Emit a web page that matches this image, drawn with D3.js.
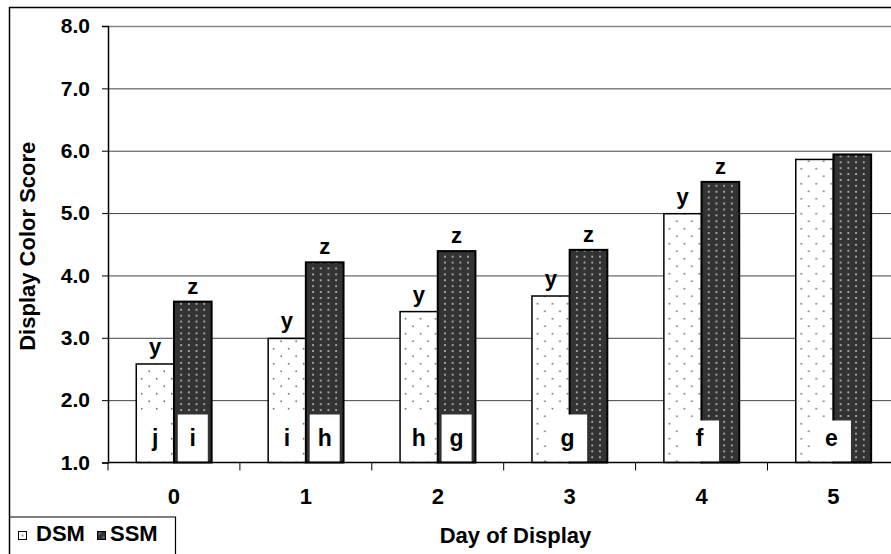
<!DOCTYPE html>
<html>
<head>
<meta charset="utf-8">
<script src="https://cdn.jsdelivr.net/npm/d3@7"></script>
<style>
  html, body { margin: 0; padding: 0; background: #fff; }
  svg { display: block; }
  text { font-family: "Liberation Sans", Arial, sans-serif; font-weight: bold; fill: #000; }
</style>
</head>
<body>
<svg id="chart" width="891" height="554"></svg>
<script>
// Display colour score by day of display for the two muscle groups
const days = ["0", "1", "2", "3", "4", "5"];
const seriesNames = ["DSM", "SSM"];
const dsmScores = [2.58, 2.99, 3.42, 3.67, 4.99, 5.86];
const ssmScores = [3.58, 4.21, 4.39, 4.41, 5.50, 5.94];

// Significance letters above the bars (muscle comparison within a day)
const dsmTopLetters = ["y", "y", "y", "y", "y", ""];
const ssmTopLetters = ["z", "z", "z", "z", "z", ""];

// Significance letters at the bar bases (day comparison within a muscle)
const dsmDayLetters = ["j", "i", "h", "", "", ""];
const ssmDayLetters = ["i", "h", "g", "", "", ""];
const pooledDayLetters = ["", "", "", "g", "f", "e"];

const yTicks = [1, 2, 3, 4, 5, 6, 7, 8];

const svg = d3.select("#chart");

// plot frame
const plot = { left: 108, top: 26, right: 899.4, bottom: 462.5 };

const x = d3.scaleBand().domain(days).range([plot.left, plot.right]).padding(0);
const xs = d3.scaleBand().domain(seriesNames).range([0, x.bandwidth()])
  .paddingInner(0).paddingOuter(0.75);
const y = d3.scaleLinear().domain([1, 8]).range([plot.bottom, plot.top]);

// fill patterns
const defs = svg.append("defs");
const pDsm = defs.append("pattern").attr("id", "pat-dsm")
  .attr("patternUnits", "userSpaceOnUse").attr("width", 15).attr("height", 15);
pDsm.append("rect").attr("width", 15).attr("height", 15).attr("fill", "#fff");
pDsm.append("circle").attr("cx", 3.75).attr("cy", 3.75).attr("r", 0.9).attr("fill", "#777");
pDsm.append("circle").attr("cx", 11.25).attr("cy", 11.25).attr("r", 0.9).attr("fill", "#777");

const pSsm = defs.append("pattern").attr("id", "pat-ssm")
  .attr("patternUnits", "userSpaceOnUse").attr("width", 7.7).attr("height", 5.9);
pSsm.append("rect").attr("width", 7.7).attr("height", 5.9).attr("fill", "#333");
pSsm.append("circle").attr("cx", 3.85).attr("cy", 2.95).attr("r", 0.95).attr("fill", "#c8c8c8");

const fills = { DSM: "url(#pat-dsm)", SSM: "url(#pat-ssm)" };

// outer chart border
svg.append("path")
  .attr("d", "M9.5,560 L9.5,7.5 L900,7.5")
  .attr("fill", "none").attr("stroke", "#000").attr("stroke-width", 1.5);

// horizontal gridlines
svg.append("g").selectAll("line")
  .data(yTicks.slice(1))
  .join("line")
  .attr("x1", plot.left).attr("x2", plot.right)
  .attr("y1", d => y(d) + 0.5).attr("y2", d => y(d) + 0.5)
  .attr("stroke", d => d === 8 ? "#888" : "#444").attr("stroke-width", d => d === 8 ? 1.5 : 1);

// bars
const rows = days.map((d, i) => ({
  day: d,
  values: [
    { key: "DSM", v: dsmScores[i], top: dsmTopLetters[i], base: dsmDayLetters[i] },
    { key: "SSM", v: ssmScores[i], top: ssmTopLetters[i], base: ssmDayLetters[i] }
  ],
  pooled: pooledDayLetters[i]
}));

const groups = svg.append("g").selectAll("g")
  .data(rows)
  .join("g")
  .attr("transform", r => `translate(${x(r.day)},0)`);

groups.selectAll("rect.bar")
  .data(r => r.values)
  .join("rect")
  .attr("class", "bar")
  .attr("x", d => xs(d.key))
  .attr("width", xs.bandwidth())
  .attr("y", d => y(d.v))
  .attr("height", d => y(1) - y(d.v))
  .attr("fill", d => fills[d.key])
  .attr("stroke", "#000")
  .attr("stroke-width", d => d.key === "SSM" ? 2 : 1.5);

// letters above bars
groups.selectAll("text.top")
  .data(r => r.values.filter(d => d.top))
  .join("text")
  .attr("class", "top")
  .attr("x", d => xs(d.key) + xs.bandwidth() / 2)
  .attr("y", d => y(d.v) - (d.key === "DSM" ? 10 : 8))
  .attr("text-anchor", "middle")
  .attr("font-size", 22)
  .text(d => d.top);

// white label boxes at the bar bases
const boxH = 48, boxHLate = 42;
groups.each(function (r, i) {
  const g = d3.select(this);
  const items = [];
  r.values.forEach(d => {
    if (d.base) items.push({ cx: xs(d.key) + xs.bandwidth() / 2, w: 30, h: boxH, t: d.base });
  });
  if (r.pooled) items.push({ cx: x.bandwidth() / 2 - 2, w: 39, h: i >= 4 ? boxHLate : boxH, t: r.pooled });
  g.selectAll("rect.lbl").data(items).join("rect")
    .attr("class", "lbl")
    .attr("x", d => d.cx - d.w / 2).attr("width", d => d.w)
    .attr("y", d => y(1) - d.h).attr("height", d => d.h - 1)
    .attr("fill", "#fff");
  g.selectAll("text.lbl").data(items).join("text")
    .attr("class", "lbl")
    .attr("x", d => d.cx).attr("y", y(1) - 17)
    .attr("text-anchor", "middle")
    .attr("font-size", 23)
    .text(d => d.t);
});

// y axis
const yAxis = svg.append("g").attr("transform", `translate(${plot.left},0)`)
  .call(d3.axisLeft(y).tickValues(yTicks).tickFormat(d3.format(".1f")).tickSize(6).tickPadding(12));
yAxis.select(".domain").attr("stroke", "#000").attr("stroke-width", 1.5);
yAxis.selectAll(".tick line").attr("stroke", "#000");
yAxis.selectAll(".tick text")
  .attr("font-size", 21).attr("font-family", "'Liberation Sans', Arial, sans-serif")
  .attr("font-weight", "bold").attr("fill", "#000");

// x axis: ticks on category boundaries, labels centred in categories
const xAxisG = svg.append("g").attr("transform", `translate(0,${plot.bottom})`);
xAxisG.append("line")
  .attr("x1", plot.left).attr("x2", plot.right)
  .attr("stroke", "#000").attr("stroke-width", 1.5);
xAxisG.selectAll("line.tick")
  .data(days)
  .join("line")
  .attr("class", "tick")
  .attr("x1", d => x(d)).attr("x2", d => x(d))
  .attr("y1", 0).attr("y2", 8)
  .attr("stroke", "#000");
xAxisG.selectAll("text")
  .data(days)
  .join("text")
  .attr("x", d => x(d) + x.bandwidth() / 2)
  .attr("y", 41.5)
  .attr("text-anchor", "middle")
  .attr("font-size", 22)
  .text(d => d);

// axis titles
svg.append("text")
  .attr("transform", `translate(35,${(plot.top + plot.bottom) / 2 + 2}) rotate(-90)`)
  .attr("text-anchor", "middle")
  .attr("font-size", 22)
  .text("Display Color Score");

svg.append("text")
  .attr("x", 515.5).attr("y", 543)
  .attr("text-anchor", "middle")
  .attr("font-size", 22)
  .text("Day of Display");

// legend
const legend = svg.append("g");
legend.append("path")
  .attr("d", "M9.5,517 L175.5,517 L175.5,560")
  .attr("fill", "none").attr("stroke", "#000").attr("stroke-width", 1.2);
const legendItems = [
  { key: "DSM", sx: 18, tx: 36 },
  { key: "SSM", sx: 97, tx: 110 }
];
const lpSmall = defs.append("pattern").attr("id", "leg-dsm")
  .attr("patternUnits", "objectBoundingBox").attr("width", 1).attr("height", 1);
lpSmall.append("rect").attr("width", 8).attr("height", 8).attr("fill", "#fff");
lpSmall.append("circle").attr("cx", 4).attr("cy", 4).attr("r", 0.9).attr("fill", "#666");
const lpDark = defs.append("pattern").attr("id", "leg-ssm")
  .attr("patternUnits", "objectBoundingBox").attr("width", 1).attr("height", 1);
lpDark.append("rect").attr("width", 8).attr("height", 8).attr("fill", "#333");
lpDark.append("circle").attr("cx", 2).attr("cy", 2).attr("r", 0.8).attr("fill", "#c8c8c8");
lpDark.append("circle").attr("cx", 6).attr("cy", 6).attr("r", 0.8).attr("fill", "#c8c8c8");

legend.selectAll("rect.sw")
  .data(legendItems)
  .join("rect")
  .attr("class", "sw")
  .attr("x", d => d.sx + 0.5).attr("y", 531.5)
  .attr("width", 8).attr("height", 8)
  .attr("fill", d => d.key === "DSM" ? "url(#leg-dsm)" : "url(#leg-ssm)")
  .attr("stroke", "#000").attr("stroke-width", 1);
legend.selectAll("text")
  .data(legendItems)
  .join("text")
  .attr("x", d => d.tx).attr("y", 541)
  .attr("font-size", 22)
  .text(d => d.key);
</script>
</body>
</html>
